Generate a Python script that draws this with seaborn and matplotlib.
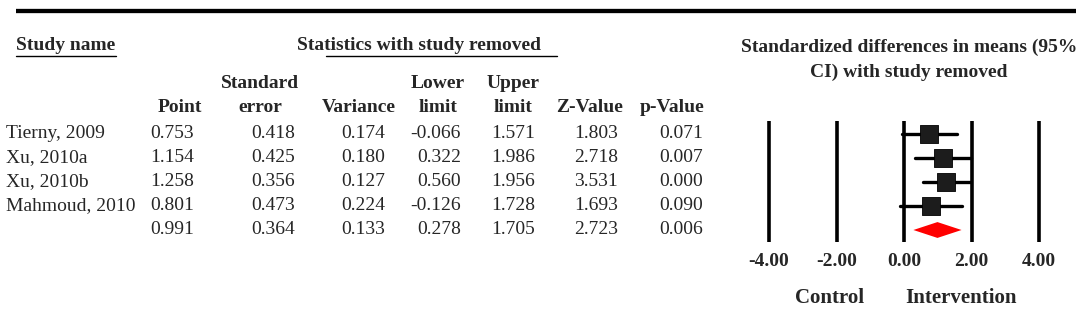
import numpy as np
import matplotlib
matplotlib.use("Agg")
import matplotlib.pyplot as plt
import seaborn as sns
import pandas as pd

# data
studies = ["Tierny, 2009", "Xu, 2010a", "Xu, 2010b", "Mahmoud, 2010", ""]
point = [0.753, 1.154, 1.258, 0.801, 0.991]
std_err = [0.418, 0.425, 0.356, 0.473, 0.364]
variance = [0.174, 0.180, 0.127, 0.224, 0.133]
lower = [-0.066, 0.322, 0.560, -0.126, 0.278]
upper = [1.571, 1.986, 1.956, 1.728, 1.705]
z_value = [1.803, 2.718, 3.531, 1.693, 2.723]
p_value = [0.071, 0.007, 0.000, 0.090, 0.006]
header_top = ["", "Standard", "", "Lower", "Upper", "", ""]
header_bottom = ["Point", "error", "Variance", "limit", "limit", "Z-Value", "p-Value"]
ticks = [-4, -2, 0, 2, 4]

df = pd.DataFrame({"study": studies, "point": point, "se": std_err, "var": variance,
                   "lower": lower, "upper": upper, "z": z_value, "p": p_value})
df["row"] = np.arange(len(df))
cols = ["point", "se", "var", "lower", "upper", "z", "p"]

sns.set_style("white")
plt.rcParams["font.family"] = ["Liberation Serif", "DejaVu Serif"]

W, H = 1084, 311
fig = plt.figure(figsize=(W / 100, H / 100), dpi=100)

# row index <-> pixel: row r sits at 134 + 24 r px from the top
def row_of(px):
    return (px - 134) / 24.0

ylim = (row_of(H), row_of(0))

# table axes in pixel units horizontally
ax = fig.add_axes([0, 0, 1, 1])
ax.set_xlim(0, W)
ax.set_ylim(ylim)
ax.axis("off")

ax.plot([16, 1076], [row_of(11)] * 2, color="black", lw=3.1, solid_capstyle="butt")

ax.text(16, row_of(46), "Study name", fontsize=14, fontweight="bold", ha="left", va="center")
ax.plot([16, 116], [row_of(56)] * 2, color="black", lw=1)
ax.text(419, row_of(46), "Statistics with study removed", fontsize=14, fontweight="bold",
        ha="center", va="center")
ax.plot([326, 557], [row_of(56)] * 2, color="black", lw=1)

ax.text(909, row_of(47), "Standardized differences in means (95%", fontsize=14,
        fontweight="bold", ha="center", va="center")
ax.text(909, row_of(72), "CI) with study removed", fontsize=14, fontweight="bold",
        ha="center", va="center")

head_x = [180, 260, 359, 438, 513, 590, 672]
val_right = [194, 295, 385, 461, 535, 618, 703]
for hx, t, b in zip(head_x, header_top, header_bottom):
    if t:
        ax.text(hx, row_of(84), t, fontsize=14, fontweight="bold", ha="center", va="center")
    ax.text(hx, row_of(108), b, fontsize=14, fontweight="bold", ha="center", va="center")

for _, r in df.iterrows():
    ax.text(6, r["row"], r["study"], fontsize=14, ha="left", va="center")
    for c, xr in zip(cols, val_right):
        ax.text(xr, r["row"], f"{r[c]:.3f}", fontsize=14, ha="right", va="center")

# forest plot axes: -4 at 769 px, 4 at 1039 px
x0, x1 = 720, W
ppu = (1039 - 769) / 8.0
xlim = (-4 - (769 - x0) / ppu, 4 + (x1 - 1039) / ppu)
fax = fig.add_axes([x0 / W, 0, (x1 - x0) / W, 1])

fax.vlines(ticks, row_of(121), row_of(242), color="black", lw=2.6)
studies_df = df.iloc[:-1]
fax.hlines(studies_df["row"], studies_df["lower"], studies_df["upper"], color="black", lw=2.4,
           capstyle="round")
sns.scatterplot(data=studies_df, x="point", y="row", marker="s", s=150, color="#1c1c1c",
                edgecolor="black", linewidth=0.6, ax=fax, zorder=3, legend=False)
fax.set_xlim(xlim)
fax.set_ylim(ylim)
fax.axis("off")

s = df.iloc[-1]
h = 0.33
fax.fill([s["lower"], s["point"], s["upper"], s["point"]],
         [s["row"], s["row"] - h, s["row"], s["row"] + h], color="#ff0000", lw=0, zorder=3)

for t in ticks:
    fax.text(t, row_of(261), f"{t:.2f}", fontsize=14, fontweight="bold", ha="center", va="center")
fax.text(-2.2, row_of(298), "Control", fontsize=15, fontweight="bold", ha="center", va="center")
fax.text(1.7, row_of(298), "Intervention", fontsize=15, fontweight="bold", ha="center", va="center")

fig.savefig("out.png", dpi=100, facecolor="white")
